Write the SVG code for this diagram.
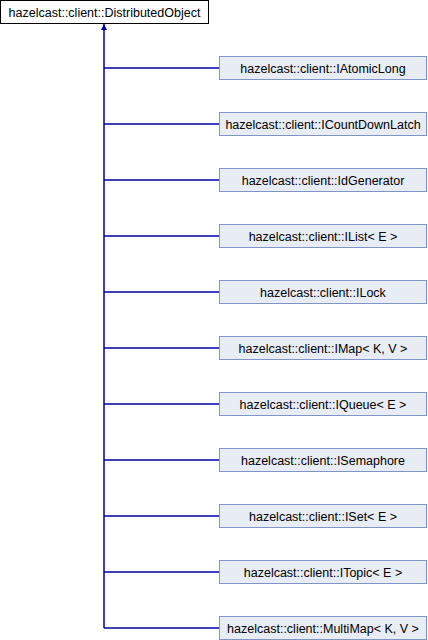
<svg xmlns="http://www.w3.org/2000/svg" width="428" height="640" viewBox="0 0 428 640">
<style>
.base{fill:#ffffff;stroke:#000000;stroke-width:1}
.node{fill:#e8ecf5;stroke:#7f95c9;stroke-width:1}
.lbl{font-family:"Liberation Sans",Arial,sans-serif;font-size:12.5px;fill:#000000;text-anchor:middle}
.edge{fill:none;stroke:#0000a0;stroke-width:1.5}
</style>
<defs>
<marker id="tri" viewBox="0 0 10 10" refX="10" refY="5" markerWidth="6" markerHeight="6" markerUnits="userSpaceOnUse" orient="auto">
<path d="M0,0 L10,5 L0,10 Z" fill="#0000a0"/>
</marker>
</defs>
<g id="connectors">
<path class="edge" d="M104,628 V24" marker-end="url(#tri)"/>
<path class="edge" d="M104,68 H219"/>
<path class="edge" d="M104,124 H219"/>
<path class="edge" d="M104,180 H219"/>
<path class="edge" d="M104,236 H219"/>
<path class="edge" d="M104,292 H219"/>
<path class="edge" d="M104,348 H219"/>
<path class="edge" d="M104,404 H219"/>
<path class="edge" d="M104,460 H219"/>
<path class="edge" d="M104,516 H219"/>
<path class="edge" d="M104,572 H219"/>
<path class="edge" d="M104,628 H219"/>
</g>
<g id="DistributedObject"><rect class="base" x="0.5" y="0.5" width="208" height="23"/><text class="lbl" x="104.5" y="16.5">hazelcast::client::DistributedObject</text></g>
<g id="IAtomicLong"><rect class="node" x="219.5" y="56.5" width="207" height="23"/><text class="lbl" x="323" y="72.5">hazelcast::client::IAtomicLong</text></g>
<g id="ICountDownLatch"><rect class="node" x="219.5" y="112.5" width="207" height="23"/><text class="lbl" x="323" y="128.5">hazelcast::client::ICountDownLatch</text></g>
<g id="IdGenerator"><rect class="node" x="219.5" y="168.5" width="207" height="23"/><text class="lbl" x="323" y="184.5">hazelcast::client::IdGenerator</text></g>
<g id="IList"><rect class="node" x="219.5" y="224.5" width="207" height="23"/><text class="lbl" x="323" y="240.5">hazelcast::client::IList&lt; E &gt;</text></g>
<g id="ILock"><rect class="node" x="219.5" y="280.5" width="207" height="23"/><text class="lbl" x="323" y="296.5">hazelcast::client::ILock</text></g>
<g id="IMap"><rect class="node" x="219.5" y="336.5" width="207" height="23"/><text class="lbl" x="323" y="352.5">hazelcast::client::IMap&lt; K, V &gt;</text></g>
<g id="IQueue"><rect class="node" x="219.5" y="392.5" width="207" height="23"/><text class="lbl" x="323" y="408.5">hazelcast::client::IQueue&lt; E &gt;</text></g>
<g id="ISemaphore"><rect class="node" x="219.5" y="448.5" width="207" height="23"/><text class="lbl" x="323" y="464.5">hazelcast::client::ISemaphore</text></g>
<g id="ISet"><rect class="node" x="219.5" y="504.5" width="207" height="23"/><text class="lbl" x="323" y="520.5">hazelcast::client::ISet&lt; E &gt;</text></g>
<g id="ITopic"><rect class="node" x="219.5" y="560.5" width="207" height="23"/><text class="lbl" x="323" y="576.5">hazelcast::client::ITopic&lt; E &gt;</text></g>
<g id="MultiMap"><rect class="node" x="219.5" y="616.5" width="207" height="23"/><text class="lbl" x="323" y="632.5">hazelcast::client::MultiMap&lt; K, V &gt;</text></g>
</svg>
